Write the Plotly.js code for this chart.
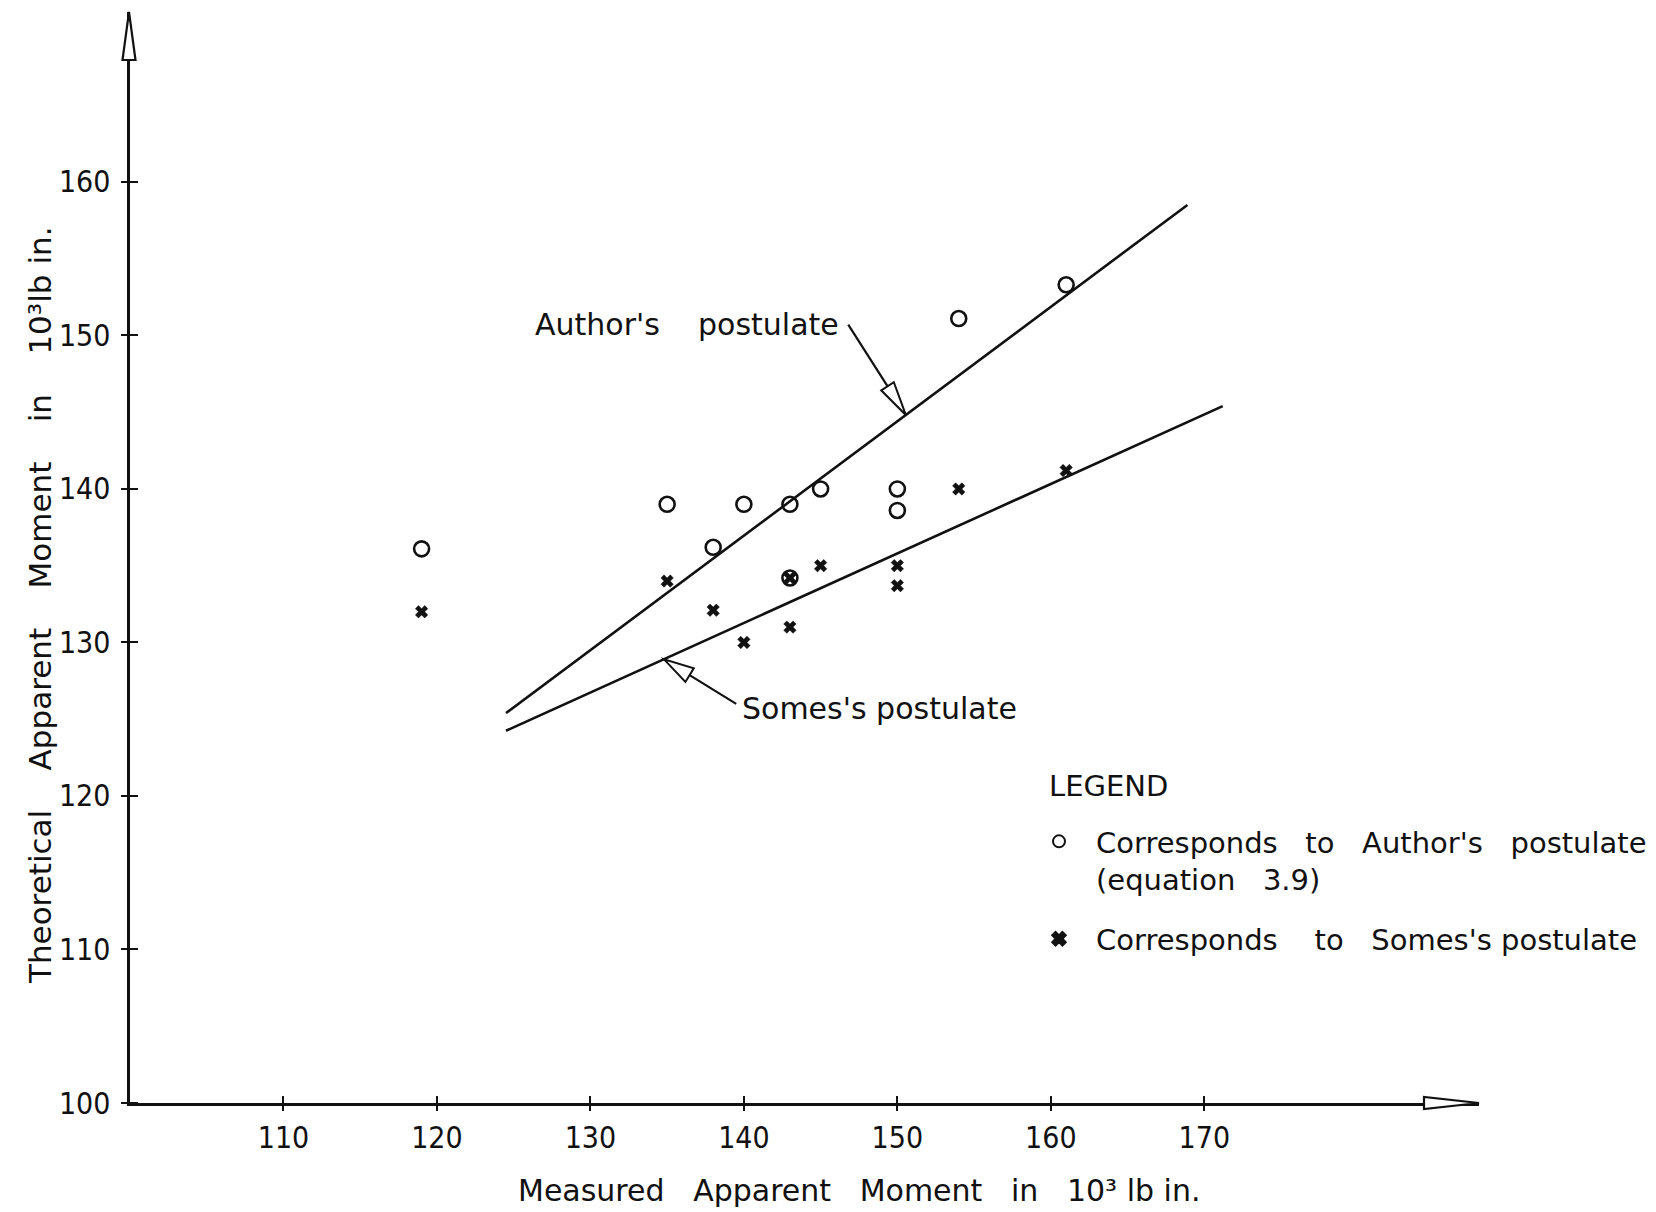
<!DOCTYPE html>
<html>
<head>
<meta charset="utf-8">
<script src="https://cdn.plot.ly/plotly-3.0.1.min.js"></script>
<style>html,body{margin:0;padding:0;background:#fff;}</style>
</head>
<body>
<div id="chart" style="width:1656px;height:1212px;"></div>
<script>
// ---- data ----
const authorX = [119, 135, 138, 140, 143, 143, 145, 150, 150, 154, 161];
const authorY = [136.1, 139, 136.2, 139, 139, 134.2, 140, 140, 138.6, 151.1, 153.3];
const somesX  = [119, 135, 138, 140, 143, 143, 145, 150, 150, 154, 161];
const somesY  = [132, 134, 132.1, 130, 131, 134.2, 135, 135, 133.7, 140, 141.2];
const authorLineX = [124.5, 168.9];
const authorLineY = [125.4, 158.5];
const somesLineX  = [124.5, 171.2];
const somesLineY  = [124.25, 145.4];
const xTicks = [110, 120, 130, 140, 150, 160, 170];
const yTicks = [100, 110, 120, 130, 140, 150, 160];
const xRange = [100, 187.9];
const yRange = [100, 171.07];
// annotation arrow anchors (tip, tail) in data units
const authorArrow = {tip: [150.55, 144.82], tail: [146.8, 150.7]};
const somesArrow  = {tip: [134.8, 128.9],  tail: [139.5, 126.0]};

// ---- layout geometry ----
const W = 1656, H = 1212, L = 130, R = 177, T = 12, B = 109;
const PW = W - L - R, PH = H - T - B;
const dToPx = x => L + (x - xRange[0]) / (xRange[1] - xRange[0]) * PW;
const dToPy = y => T + (yRange[1] - y) / (yRange[1] - yRange[0]) * PH;
const pX = px => (px - L) / PW;
const pY = py => (H - B - py) / PH;

const TXT = '"DejaVu Sans", "Noto Sans", sans-serif';
const NUM = '"Liberation Sans Narrow", "DejaVu Sans Condensed", "Liberation Sans", sans-serif';
const NB = n => '\u00a0'.repeat(n);
const INK = '#111111';

function headPath(tipX, tipY, tailX, tailY, len, half) {
  const dx = tailX - tipX, dy = tailY - tipY, d = Math.hypot(dx, dy);
  const ux = dx / d, uy = dy / d, nx = -uy, ny = ux;
  const bx = tipX + ux * len, by = tipY + uy * len;
  const pts = [[tipX, tipY], [bx + nx * half, by + ny * half], [bx - nx * half, by - ny * half]];
  return 'M' + pts.map(p => pX(p[0]).toFixed(5) + ',' + pY(p[1]).toFixed(5)).join('L') + 'Z';
}
function lineShape(a, b, w) {
  return {type: 'line', xref: 'paper', yref: 'paper', layer: 'above',
          x0: pX(a[0]), y0: pY(a[1]), x1: pX(b[0]), y1: pY(b[1]),
          line: {color: INK, width: w}};
}

const traces = [
  {
    x: authorX, y: authorY, type: 'scatter', mode: 'markers',
    name: 'Corresponds' + NB(3) + 'to' + NB(3) + "Author's" + NB(3) + 'postulate<br>(equation' + NB(3) + '3.9)',
    legendgroup: 'a',
    marker: {symbol: 'circle-open', size: 15, color: INK, line: {width: 2.6, color: INK}}
  },
  {
    x: somesX, y: somesY, type: 'scatter', mode: 'markers',
    name: 'Corresponds' + NB(4) + 'to' + NB(3) + "Somes's" + NB(1) + 'postulate',
    legendgroup: 's',
    marker: {symbol: 'x', size: 11, color: INK, line: {width: 0.5, color: INK}}
  },
  {
    x: authorLineX, y: authorLineY, type: 'scatter', mode: 'lines', name: "Author's postulate",
    showlegend: false, line: {color: INK, width: 2.6}
  },
  {
    x: somesLineX, y: somesLineY, type: 'scatter', mode: 'lines', name: "Somes's postulate",
    showlegend: false, line: {color: INK, width: 2.6}
  }
];

const aTip = [dToPx(authorArrow.tip[0]), dToPy(authorArrow.tip[1])];
const aTail = [dToPx(authorArrow.tail[0]), dToPy(authorArrow.tail[1])];
const sTip = [dToPx(somesArrow.tip[0]), dToPy(somesArrow.tip[1])];
const sTail = [dToPx(somesArrow.tail[0]), dToPy(somesArrow.tail[1])];

const layout = {
  width: W, height: H,
  margin: {l: L, r: R, t: T, b: B, autoexpand: false},
  paper_bgcolor: '#ffffff', plot_bgcolor: '#ffffff',
  showlegend: true,
  legend: {
    x: pX(1022), y: pY(816), xanchor: 'left', yanchor: 'top',
    bgcolor: 'rgba(0,0,0,0)', borderwidth: 0,
    font: {family: TXT, size: 29, color: INK},
    itemwidth: 64, itemsizing: 'constant', valign: 'top',
    tracegroupgap: 19, traceorder: 'grouped'
  },
  xaxis: {
    range: xRange, showgrid: false, zeroline: false, fixedrange: true,
    tickmode: 'array', tickvals: xTicks, ticktext: xTicks.map(String),
    ticks: 'outside', ticklen: 5, tickwidth: 2, tickcolor: INK,
    minor: {tickmode: 'array', tickvals: xTicks, ticks: 'inside', ticklen: 7, tickwidth: 2, tickcolor: INK, showgrid: false},
    showline: true, linecolor: INK, linewidth: 2.6,
    tickfont: {family: NUM, size: 30, color: INK}, ticklabelstandoff: 1
  },
  yaxis: {
    range: yRange, showgrid: false, zeroline: false, fixedrange: true,
    tickmode: 'array', tickvals: yTicks, ticktext: yTicks.map(String),
    ticks: 'outside', ticklen: 6, tickwidth: 2, tickcolor: INK,
    minor: {tickmode: 'array', tickvals: yTicks, ticks: 'inside', ticklen: 8, tickwidth: 2, tickcolor: INK, showgrid: false},
    showline: true, linecolor: INK, linewidth: 2.6,
    tickfont: {family: NUM, size: 30, color: INK}, ticklabelstandoff: 5
  },
  annotations: [
    {
      xref: 'paper', yref: 'paper', x: pX(40), y: pY(605), textangle: -90,
      xanchor: 'center', yanchor: 'middle', showarrow: false,
      text: 'Theoretical' + NB(4) + 'Apparent' + NB(4) + 'Moment' + NB(4) + 'in' + NB(4) + '10\u00b3lb in.',
      font: {family: TXT, size: 31, color: INK}
    },
    {
      xref: 'paper', yref: 'paper', x: pX(859), y: pY(1190),
      xanchor: 'center', yanchor: 'middle', showarrow: false,
      text: 'Measured' + NB(3) + 'Apparent' + NB(3) + 'Moment' + NB(3) + 'in' + NB(3) + '10\u00b3 lb in.',
      font: {family: TXT, size: 30, color: INK}
    },
    {
      xref: 'paper', yref: 'paper', x: pX(533), y: pY(324),
      xanchor: 'left', yanchor: 'middle', showarrow: false,
      text: "Author's" + NB(4) + 'postulate',
      font: {family: TXT, size: 30, color: INK}
    },
    {
      xref: 'paper', yref: 'paper', x: pX(740), y: pY(708),
      xanchor: 'left', yanchor: 'middle', showarrow: false,
      text: "Somes's" + NB(1) + 'postulate',
      font: {family: TXT, size: 30, color: INK}
    },
    {
      xref: 'paper', yref: 'paper', x: pX(1047), y: pY(786),
      xanchor: 'left', yanchor: 'middle', showarrow: false,
      text: 'LEGEND',
      font: {family: TXT, size: 29, color: INK}
    }
  ],
  shapes: [
    lineShape(aTail, aTip, 2.2),
    lineShape(sTail, sTip, 2.2),
    {type: 'path', xref: 'paper', yref: 'paper', layer: 'above',
     path: headPath(L - 1, T, L - 1, T + 100, 48, 6.5), fillcolor: '#ffffff', line: {color: INK, width: 2.2}},
    {type: 'path', xref: 'paper', yref: 'paper', layer: 'above',
     path: headPath(W - R, H - B, W - R - 100, H - B, 55, 6), fillcolor: '#ffffff', line: {color: INK, width: 2.2}},
    {type: 'path', xref: 'paper', yref: 'paper', layer: 'above',
     path: headPath(aTip[0], aTip[1], aTail[0], aTail[1], 34, 7.5), fillcolor: '#ffffff', line: {color: INK, width: 2}},
    {type: 'path', xref: 'paper', yref: 'paper', layer: 'above',
     path: headPath(sTip[0], sTip[1], sTail[0], sTail[1], 30, 8), fillcolor: '#ffffff', line: {color: INK, width: 2}}
  ]
};

Plotly.newPlot('chart', traces, layout, {staticPlot: true, displayModeBar: false});
</script>
</body>
</html>
